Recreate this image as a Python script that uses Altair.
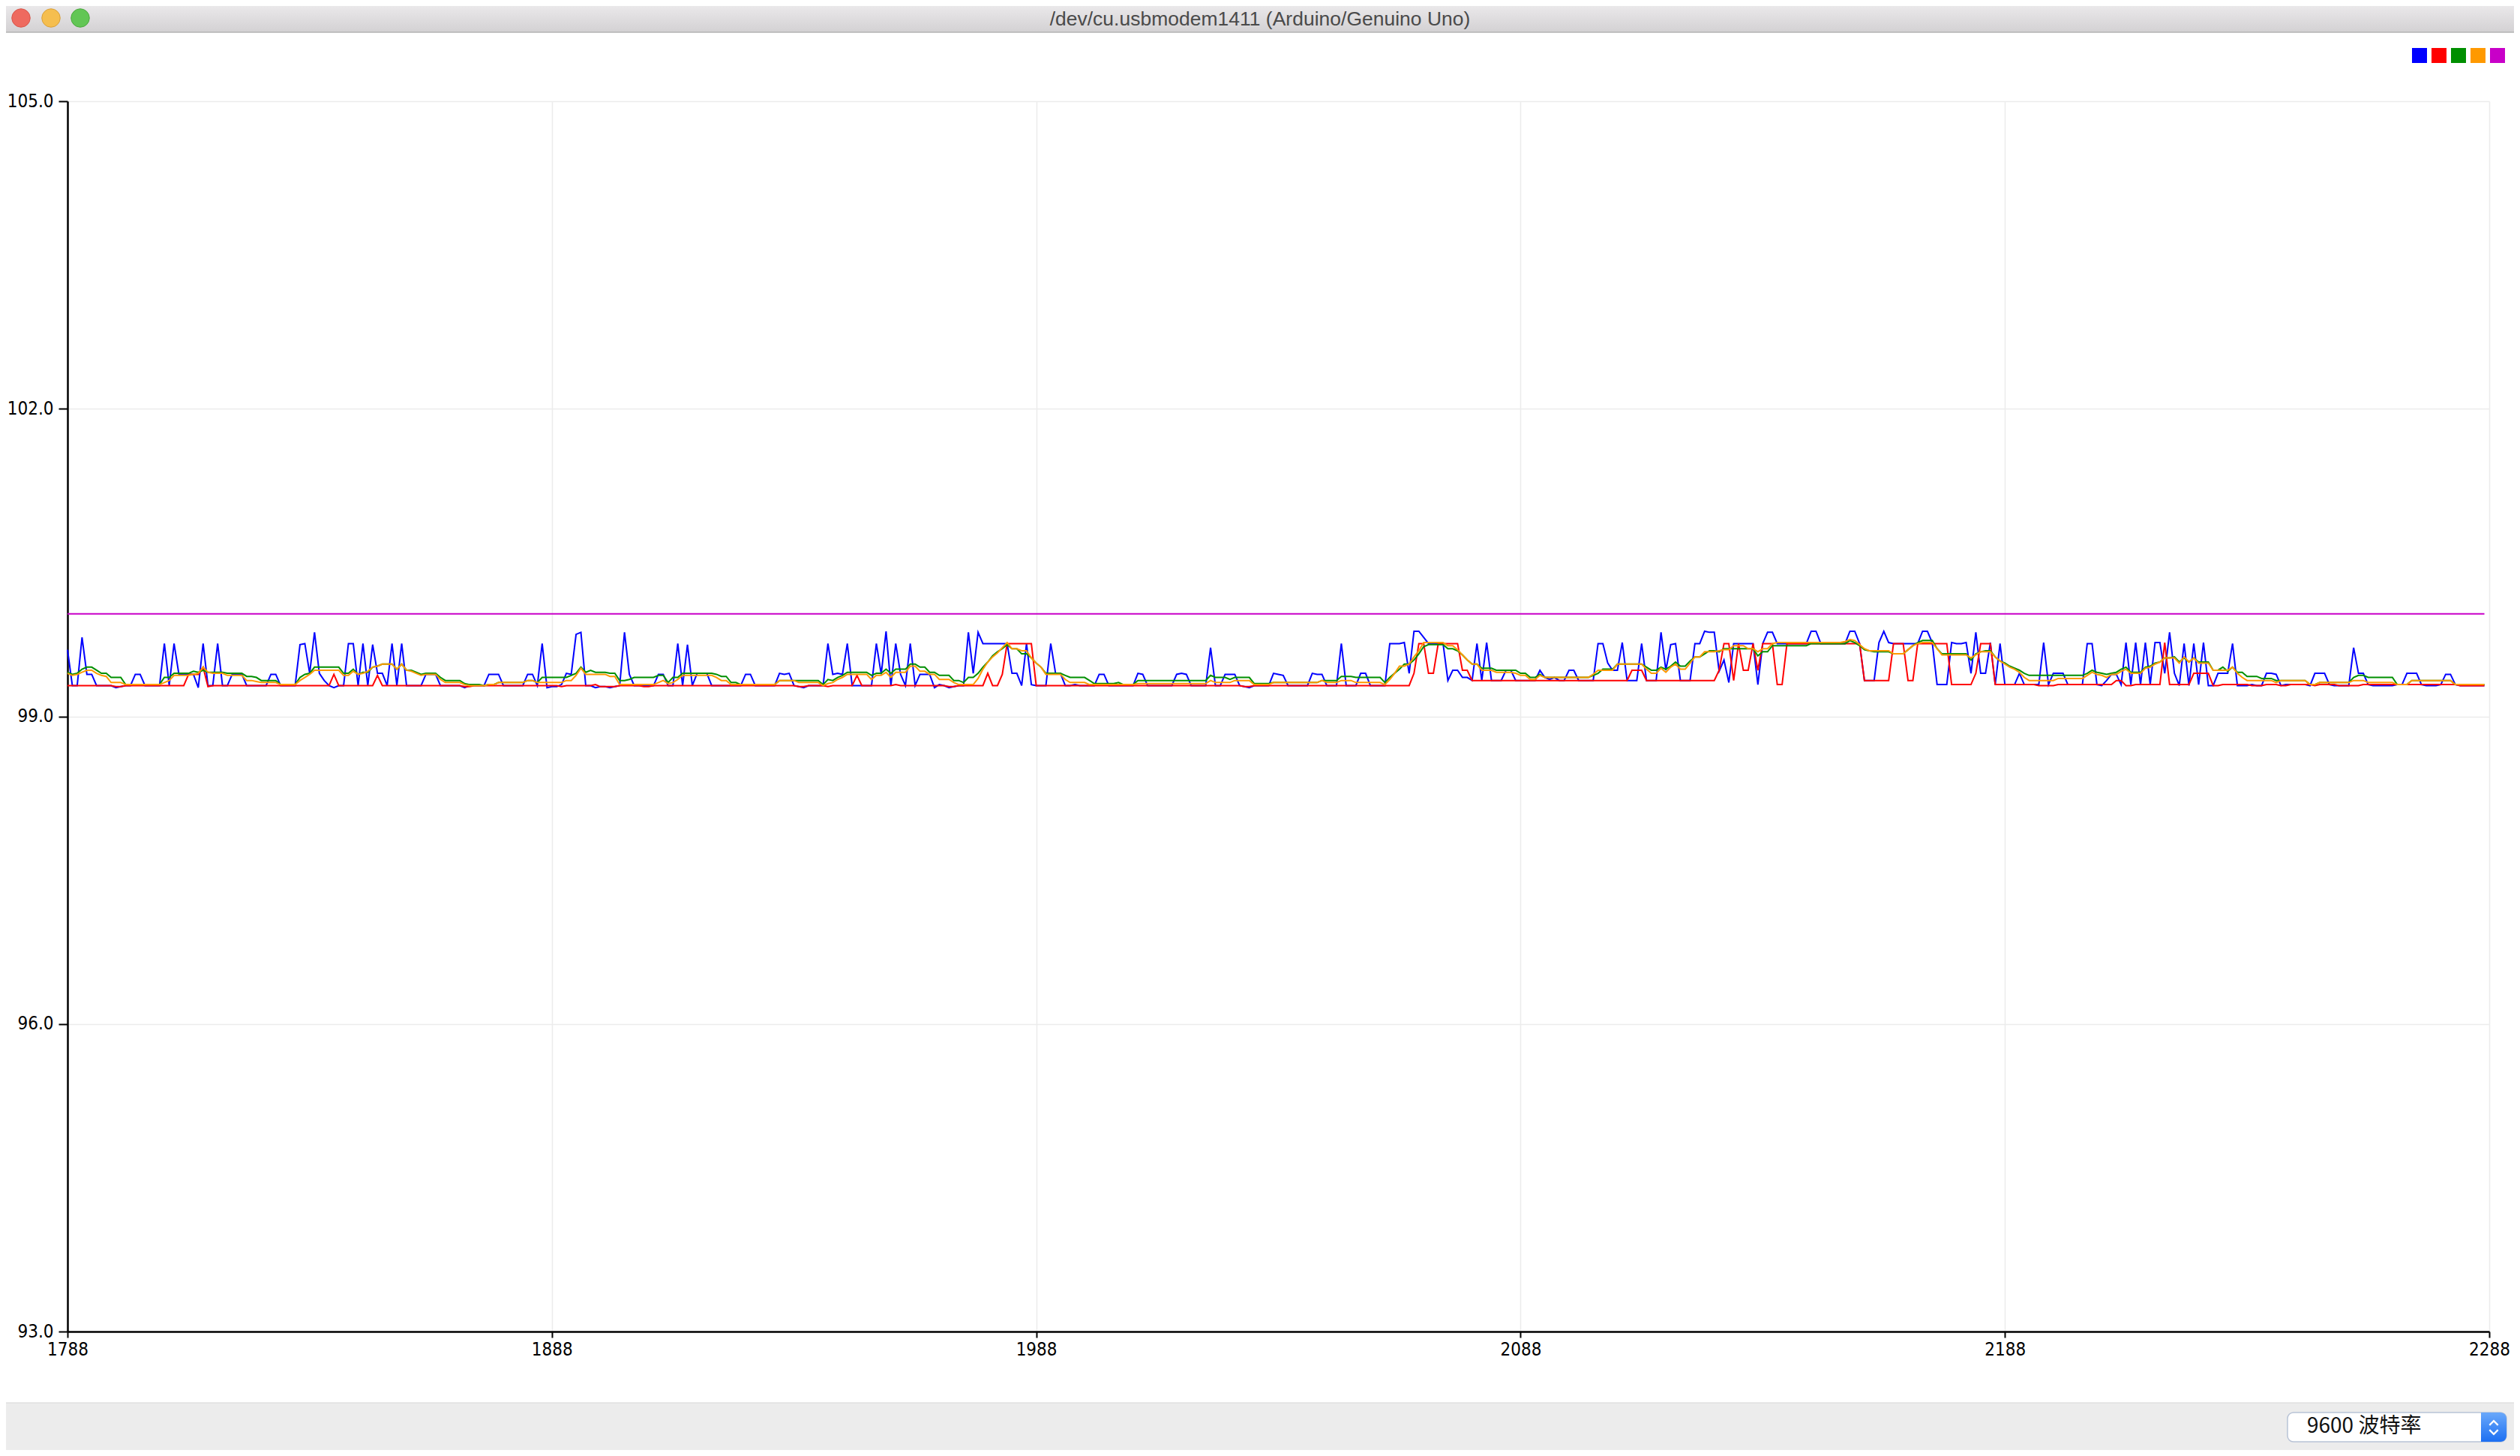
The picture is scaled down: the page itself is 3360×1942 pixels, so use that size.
import altair as alt
import pandas as pd

WINDOW_TITLE = "/dev/cu.usbmodem1411 (Arduino/Genuino Uno)"
BAUD_LABEL = "9600 波特率"
SERIES = ["1", "2", "3", "4", "5"]
SERIES_COLORS = ["#0000ff", "#ff0000", "#008f00", "#ff9900", "#c800c8"]
X_FIRST = 1788
X_TICKS = [1788, 1888, 1988, 2088, 2188, 2288]
Y_TICKS = [93.0, 96.0, 99.0, 102.0, 105.0]

# series 1 (blue), one value per sample
BLUE = [
    99.65, 99.30, 99.30, 99.77, 99.41, 99.41, 99.30, 99.30, 99.30, 99.30,
    99.28, 99.29, 99.30, 99.30, 99.41, 99.41, 99.30, 99.30, 99.30, 99.30,
    99.71, 99.30, 99.71, 99.41, 99.41, 99.41, 99.41, 99.28, 99.71, 99.30,
    99.30, 99.71, 99.30, 99.30, 99.41, 99.41, 99.41, 99.30, 99.30, 99.30,
    99.30, 99.30, 99.41, 99.41, 99.30, 99.30, 99.30, 99.30, 99.70, 99.71,
    99.42, 99.82, 99.42, 99.35, 99.30, 99.28, 99.30, 99.30, 99.71, 99.71,
    99.30, 99.71, 99.30, 99.70, 99.42, 99.42, 99.30, 99.71, 99.30, 99.71,
    99.30, 99.30, 99.30, 99.30, 99.41, 99.41, 99.41, 99.30, 99.30, 99.30,
    99.30, 99.30, 99.28, 99.30, 99.30, 99.30,
    99.30, 99.41, 99.41, 99.41, 99.30, 99.30, 99.30, 99.30, 99.30, 99.41,
    99.41, 99.30, 99.71, 99.28, 99.29, 99.29, 99.31, 99.42, 99.41, 99.80,
    99.82, 99.30, 99.30, 99.28, 99.29, 99.29, 99.28, 99.29, 99.30, 99.82,
    99.41, 99.30, 99.30, 99.30, 99.30, 99.30, 99.41, 99.41, 99.30, 99.30,
    99.71, 99.30, 99.70, 99.30, 99.42, 99.42, 99.42, 99.30, 99.30, 99.30,
    99.30, 99.30, 99.30, 99.30, 99.41, 99.41, 99.30, 99.30, 99.30, 99.30,
    99.30, 99.42, 99.41, 99.42, 99.30, 99.29, 99.28, 99.30, 99.30, 99.30,
    99.30, 99.71, 99.41, 99.42, 99.41, 99.71, 99.30, 99.30, 99.30, 99.30,
    99.30, 99.71, 99.41, 99.83, 99.30, 99.71,
    99.41, 99.30, 99.71, 99.30, 99.41, 99.41, 99.41, 99.28, 99.31, 99.30,
    99.28, 99.29, 99.30, 99.30, 99.82, 99.42, 99.82, 99.71, 99.71, 99.71,
    99.71, 99.71, 99.71, 99.42, 99.42, 99.30, 99.71, 99.31, 99.30, 99.30,
    99.30, 99.71, 99.42, 99.42, 99.30, 99.30, 99.31, 99.30, 99.30, 99.30,
    99.30, 99.41, 99.41, 99.30, 99.30, 99.30, 99.30, 99.30, 99.30, 99.42,
    99.41, 99.30, 99.30, 99.30, 99.30, 99.30, 99.30, 99.41, 99.42, 99.41,
    99.30, 99.30, 99.30, 99.30, 99.67, 99.30, 99.30, 99.41, 99.41, 99.41,
    99.30, 99.29, 99.28, 99.30, 99.30, 99.30, 99.30, 99.42, 99.41, 99.40,
    99.30, 99.30, 99.30, 99.30, 99.30, 99.42, 99.41,
    99.41, 99.30, 99.30, 99.30, 99.71, 99.30, 99.30, 99.30, 99.42, 99.42,
    99.30, 99.30, 99.30, 99.30, 99.71, 99.71, 99.71, 99.72, 99.42, 99.83,
    99.83, 99.77, 99.71, 99.71, 99.71, 99.71, 99.35, 99.45, 99.45, 99.38,
    99.38, 99.35, 99.71, 99.35, 99.72, 99.35, 99.35, 99.35, 99.45, 99.45,
    99.35, 99.35, 99.35, 99.35, 99.35, 99.45, 99.38, 99.36, 99.38, 99.35,
    99.35, 99.45, 99.45, 99.35, 99.35, 99.35, 99.35, 99.71, 99.71, 99.52,
    99.45, 99.45, 99.72, 99.35, 99.35, 99.35, 99.71, 99.35, 99.35, 99.35,
    99.82, 99.45, 99.70, 99.71, 99.35, 99.35, 99.35, 99.71, 99.71, 99.83,
    99.82, 99.82, 99.44, 99.55, 99.33, 99.71, 99.71,
    99.71, 99.71, 99.71, 99.31, 99.71, 99.82, 99.82, 99.71, 99.71, 99.71,
    99.71, 99.71, 99.71, 99.71, 99.83, 99.83, 99.71, 99.71, 99.71, 99.71,
    99.71, 99.71, 99.83, 99.83, 99.71, 99.35, 99.35, 99.35, 99.72, 99.83,
    99.72, 99.71, 99.71, 99.71, 99.71, 99.71, 99.71, 99.83, 99.83, 99.72,
    99.31, 99.31, 99.31, 99.72, 99.71, 99.71, 99.72, 99.42, 99.82, 99.42,
    99.42, 99.72, 99.31, 99.71, 99.31, 99.31, 99.31, 99.42, 99.31, 99.31,
    99.31, 99.31, 99.72, 99.31, 99.42, 99.42, 99.42, 99.31, 99.31, 99.31,
    99.31, 99.71, 99.71, 99.31, 99.30, 99.35, 99.41, 99.41, 99.31, 99.72,
    99.31, 99.72, 99.31, 99.72, 99.31, 99.72, 99.72,
    99.42, 99.82, 99.42, 99.30, 99.71, 99.30, 99.71, 99.31, 99.72, 99.30,
    99.30, 99.42, 99.42, 99.42, 99.71, 99.30, 99.30, 99.30, 99.31, 99.30,
    99.30, 99.42, 99.42, 99.41, 99.30, 99.31, 99.31, 99.31, 99.31, 99.31,
    99.30, 99.42, 99.42, 99.42, 99.31, 99.30, 99.30, 99.30, 99.30, 99.67,
    99.42, 99.42, 99.31, 99.30, 99.30, 99.30, 99.30, 99.30, 99.31, 99.31,
    99.42, 99.42, 99.42, 99.31, 99.30, 99.30, 99.30, 99.31, 99.41, 99.41,
    99.31, 99.30, 99.30, 99.30, 99.30, 99.30, 99.30,
]

# series 2 (red), runs of (value, number of samples)
RED_RUNS = [
    (99.30, 10), (99.29, 2), (99.30, 13), (99.41, 3), (99.48, 1), (99.29, 1),
    (99.30, 25), (99.41, 1), (99.30, 8), (99.40, 1), (99.30, 17), (99.29, 2), (99.30, 2),
    (99.30, 16), (99.29, 1), (99.30, 6), (99.31, 1), (99.29, 4), (99.30, 5), (99.29, 2),
    (99.30, 30), (99.29, 2), (99.30, 4), (99.29, 1), (99.30, 5), (99.40, 1), (99.30, 7), (99.31, 1),
    (99.30, 10), (99.29, 2), (99.30, 6), (99.42, 1), (99.30, 2), (99.41, 1), (99.71, 6),
    (99.30, 43), (99.29, 2), (99.30, 14),
    (99.30, 19), (99.42, 1), (99.71, 2), (99.42, 2), (99.71, 5), (99.45, 2), (99.35, 33),
    (99.45, 3), (99.35, 15), (99.45, 1), (99.71, 2), (99.35, 1), (99.71, 1),
    (99.45, 2), (99.71, 1), (99.45, 1), (99.71, 3), (99.31, 2), (99.71, 16), (99.35, 6),
    (99.71, 3), (99.35, 2), (99.71, 7), (99.31, 5), (99.42, 1), (99.71, 3), (99.31, 9),
    (99.30, 4), (99.31, 12), (99.35, 2), (99.30, 2), (99.31, 6),
    (99.72, 1), (99.31, 5), (99.42, 4), (99.30, 2), (99.31, 6), (99.30, 3), (99.31, 3),
    (99.30, 2), (99.31, 5), (99.30, 1), (99.31, 4), (99.30, 5), (99.31, 20), (99.30, 6),
]

# series 3 (green)
GREEN_RUNS = [
    (99.43, 1), (99.41, 1), (99.42, 1), (99.46, 1), (99.48, 2), (99.45, 1), (99.42, 2),
    (99.38, 3), (99.31, 8), (99.38, 2), (99.42, 4), (99.44, 1), (99.43, 1), (99.45, 1),
    (99.43, 4), (99.42, 4), (99.39, 2), (99.38, 1), (99.35, 4), (99.31, 4), (99.38, 1),
    (99.41, 1), (99.42, 1), (99.48, 6), (99.42, 2), (99.46, 1), (99.41, 1), (99.43, 2),
    (99.48, 1), (99.49, 1), (99.51, 3), (99.46, 1), (99.51, 1), (99.45, 2), (99.43, 1),
    (99.41, 1), (99.42, 3), (99.38, 1), (99.35, 4), (99.32, 1), (99.31, 3),
    (99.30, 1), (99.31, 2), (99.33, 6), (99.35, 2), (99.33, 1), (99.38, 6), (99.40, 1),
    (99.42, 1), (99.48, 1), (99.43, 1), (99.45, 1), (99.43, 3), (99.42, 2), (99.35, 2),
    (99.36, 1), (99.38, 5), (99.40, 2), (99.33, 1), (99.38, 2), (99.42, 7), (99.41, 1),
    (99.39, 2), (99.33, 2), (99.31, 8), (99.35, 9), (99.31, 1), (99.36, 1), (99.35, 1),
    (99.38, 1), (99.40, 1), (99.43, 5), (99.40, 1), (99.42, 2), (99.46, 1), (99.42, 1), (99.46, 1),
    (99.46, 2), (99.51, 2), (99.48, 2), (99.43, 2), (99.40, 3), (99.35, 2), (99.33, 1),
    (99.38, 2), (99.42, 1), (99.48, 1), (99.53, 1), (99.59, 1), (99.63, 1), (99.66, 1),
    (99.70, 1), (99.66, 2), (99.61, 2), (99.57, 1), (99.52, 1), (99.48, 1), (99.42, 4),
    (99.40, 1), (99.38, 4), (99.35, 1), (99.32, 5), (99.33, 1), (99.31, 3), (99.35, 15),
    (99.40, 1), (99.38, 3), (99.36, 1), (99.38, 4), (99.32, 4), (99.33, 10),
    (99.35, 4), (99.39, 3), (99.38, 6), (99.33, 1), (99.38, 1), (99.42, 1), (99.46, 1),
    (99.51, 2), (99.55, 1), (99.61, 1), (99.68, 1), (99.70, 4), (99.66, 2), (99.64, 1),
    (99.60, 1), (99.55, 1), (99.51, 2), (99.47, 3), (99.45, 5), (99.42, 2), (99.38, 2),
    (99.41, 1), (99.38, 10), (99.40, 1), (99.42, 1), (99.46, 3), (99.51, 6), (99.48, 1),
    (99.45, 2), (99.48, 1), (99.46, 1), (99.49, 1), (99.53, 1), (99.49, 2), (99.54, 1),
    (99.58, 2), (99.61, 1), (99.64, 2), (99.63, 1), (99.66, 4),
    (99.66, 3), (99.59, 1), (99.63, 2), (99.69, 8), (99.71, 8), (99.74, 1), (99.72, 1),
    (99.69, 1), (99.65, 1), (99.64, 1), (99.63, 4), (99.61, 3), (99.65, 1), (99.69, 1),
    (99.72, 1), (99.74, 3), (99.66, 1), (99.61, 6), (99.55, 1), (99.61, 1), (99.63, 1),
    (99.64, 2), (99.58, 1), (99.54, 1), (99.52, 1), (99.49, 1), (99.47, 1), (99.45, 1),
    (99.42, 1), (99.40, 12), (99.42, 1), (99.45, 1), (99.43, 1), (99.42, 1), (99.41, 1),
    (99.42, 1), (99.43, 1), (99.46, 1), (99.48, 1), (99.43, 3), (99.48, 1), (99.49, 1),
    (99.52, 1), (99.53, 1),
    (99.57, 2), (99.58, 1), (99.53, 1), (99.57, 1), (99.53, 1), (99.57, 1), (99.53, 3),
    (99.45, 2), (99.48, 1), (99.44, 1), (99.48, 1), (99.43, 2), (99.39, 3), (99.37, 3),
    (99.35, 7), (99.31, 2), (99.33, 7), (99.38, 1), (99.40, 2), (99.38, 6), (99.31, 3),
    (99.35, 9), (99.31, 7),
]

# series 4 (orange)
ORANGE_RUNS = [
    (99.42, 1), (99.40, 1), (99.41, 1), (99.43, 1), (99.45, 2), (99.42, 1), (99.40, 1),
    (99.39, 1), (99.33, 3), (99.31, 8), (99.33, 1), (99.35, 1), (99.40, 4), (99.41, 1),
    (99.42, 1), (99.48, 1), (99.43, 1), (99.42, 3), (99.40, 4), (99.35, 2), (99.34, 1),
    (99.33, 4), (99.31, 4), (99.35, 1), (99.38, 1), (99.41, 1), (99.45, 6), (99.40, 2),
    (99.44, 1), (99.41, 1), (99.42, 1), (99.44, 1), (99.48, 1), (99.49, 1), (99.51, 3),
    (99.46, 1), (99.51, 1), (99.45, 1), (99.44, 1), (99.42, 1), (99.40, 1), (99.41, 3),
    (99.36, 1), (99.33, 4), (99.31, 1), (99.30, 3),
    (99.30, 1), (99.31, 2), (99.33, 6), (99.35, 2), (99.33, 6), (99.35, 2), (99.40, 1),
    (99.47, 1), (99.41, 5), (99.39, 2), (99.31, 8), (99.33, 1), (99.35, 1), (99.32, 1),
    (99.33, 1), (99.36, 1), (99.40, 7), (99.38, 1), (99.35, 2), (99.31, 10), (99.35, 4),
    (99.33, 5), (99.30, 1), (99.32, 1), (99.33, 1), (99.36, 1), (99.38, 1), (99.41, 5),
    (99.36, 1), (99.40, 2), (99.43, 1), (99.38, 1), (99.43, 1),
    (99.43, 2), (99.49, 2), (99.44, 2), (99.41, 2), (99.36, 3), (99.33, 1), (99.31, 4),
    (99.37, 1), (99.46, 1), (99.53, 1), (99.58, 1), (99.62, 1), (99.67, 1), (99.72, 1),
    (99.66, 2), (99.64, 2), (99.57, 1), (99.52, 1), (99.48, 1), (99.41, 4), (99.36, 1),
    (99.33, 4), (99.31, 10), (99.32, 15), (99.35, 1), (99.33, 4), (99.35, 4), (99.31, 4),
    (99.33, 10),
    (99.35, 1), (99.33, 3), (99.35, 3), (99.33, 6), (99.31, 1), (99.36, 1), (99.42, 1),
    (99.49, 2), (99.51, 1), (99.58, 1), (99.64, 1), (99.72, 5), (99.69, 2), (99.65, 1),
    (99.60, 1), (99.55, 1), (99.51, 2), (99.45, 3), (99.43, 4), (99.42, 1), (99.40, 2),
    (99.36, 2), (99.40, 1), (99.38, 10), (99.41, 1), (99.45, 4), (99.51, 6), (99.46, 1),
    (99.42, 2), (99.47, 1), (99.43, 1), (99.48, 1), (99.51, 1), (99.46, 2), (99.52, 1),
    (99.58, 2), (99.63, 3), (99.64, 1), (99.65, 2), (99.69, 2),
    (99.69, 1), (99.66, 2), (99.63, 1), (99.66, 2), (99.71, 1), (99.72, 14), (99.73, 1),
    (99.75, 1), (99.74, 1), (99.70, 1), (99.66, 1), (99.64, 5), (99.61, 3), (99.65, 1),
    (99.69, 1), (99.71, 1), (99.72, 3), (99.66, 1), (99.60, 6), (99.57, 1), (99.60, 1),
    (99.63, 3), (99.58, 1), (99.54, 1), (99.51, 1), (99.48, 1), (99.46, 1), (99.43, 1),
    (99.38, 1), (99.35, 6), (99.37, 6), (99.40, 1), (99.43, 1), (99.41, 1), (99.40, 1),
    (99.38, 1), (99.41, 2), (99.44, 1), (99.46, 1), (99.42, 3), (99.47, 1), (99.48, 1),
    (99.51, 1), (99.53, 1),
    (99.57, 3), (99.52, 1), (99.58, 1), (99.53, 1), (99.57, 1), (99.52, 3), (99.45, 4),
    (99.48, 1), (99.42, 1), (99.38, 1), (99.35, 6), (99.33, 1), (99.35, 6), (99.31, 2),
    (99.33, 7), (99.35, 3), (99.33, 6), (99.31, 3), (99.35, 9), (99.31, 7),
]

# series 5 (magenta) is a flat reference level
MAGENTA_LEVEL = 100.0


def expand(runs):
    out = []
    for value, count in runs:
        out.extend([value] * count)
    return out


series_values = [
    BLUE,
    expand(RED_RUNS),
    expand(GREEN_RUNS),
    expand(ORANGE_RUNS),
    [MAGENTA_LEVEL] * len(BLUE),
]

rows = []
for name, values in zip(SERIES, series_values):
    for i, v in enumerate(values):
        rows.append({"series": name, "x": X_FIRST + i, "y": v})
df = pd.DataFrame(rows)

# ---------------- layout (pixels, relative to the plot origin) ----------------
PLOT_W, PLOT_H = 3229, 1641
PAD = {"left": 82, "top": 127, "right": 33, "bottom": 158}
LEFT, RIGHT = -PAD["left"], PLOT_W + PAD["right"]
TOP, BOTTOM = -PAD["top"], PLOT_H + PAD["bottom"]

one = pd.DataFrame({"k": [0]})
color_scale = alt.Scale(domain=SERIES, range=SERIES_COLORS)
MONO = "'DejaVu Sans Condensed', 'DejaVu Sans Mono'"

x_enc = alt.X(
    "x:Q",
    scale=alt.Scale(domain=[X_TICKS[0], X_TICKS[-1]], nice=False, zero=False),
    axis=alt.Axis(
        values=X_TICKS, format="d", title=None, labelFont=MONO, labelFontSize=24,
        labelColor="black", labelFlush=False, labelOverlap=False,
        tickColor="black", tickSize=8, tickWidth=2, labelPadding=4,
        domainColor="black", domainWidth=2.5,
        grid=True, gridColor="#ececec", gridWidth=1.5,
    ),
)
y_enc = alt.Y(
    "y:Q",
    scale=alt.Scale(domain=[Y_TICKS[0], Y_TICKS[-1]], nice=False, zero=False),
    axis=alt.Axis(
        values=Y_TICKS, format=".1f", title=None, labelFont=MONO, labelFontSize=24,
        labelColor="black", labelOverlap=False,
        tickColor="black", tickSize=12, tickWidth=2, labelPadding=7,
        domainColor="black", domainWidth=2.5,
        grid=True, gridColor="#ececec", gridWidth=1.5,
    ),
)

layers = []

# window title bar
title_grad = alt.LinearGradient(
    gradient="linear",
    stops=[alt.GradientStop(color="#eae8ea", offset=0), alt.GradientStop(color="#d3d1d3", offset=1)],
    x1=0, x2=0, y1=0, y2=1,
)
layers.append(alt.Chart(one).mark_rect(color=title_grad).encode(
    x=alt.value(LEFT), x2=alt.value(RIGHT), y=alt.value(TOP), y2=alt.value(-92)))
layers.append(alt.Chart(one).mark_rule(color="#b3b3b3", strokeWidth=1.5).encode(
    x=alt.value(LEFT), x2=alt.value(RIGHT), y=alt.value(-92)))
for cx, fill, stroke in [(-62, "#ee6a5f", "#d8564b"), (-22, "#f5be4f", "#d9a03a"), (17, "#62c655", "#4ca83f")]:
    layers.append(alt.Chart(one).mark_circle(size=600, color=fill, opacity=1, stroke=stroke, strokeWidth=1).encode(
        x=alt.value(cx), y=alt.value(-111)))
layers.append(alt.Chart(one).mark_text(
    text=WINDOW_TITLE, font="Liberation Sans", fontSize=26.5, color="#4a4a4a",
    align="center", baseline="middle").encode(x=alt.value(1590), y=alt.value(-109)))

# bottom bar with baud-rate selector
layers.append(alt.Chart(one).mark_rect(color="#ececec").encode(
    x=alt.value(LEFT), x2=alt.value(RIGHT), y=alt.value(1736), y2=alt.value(BOTTOM)))
layers.append(alt.Chart(one).mark_rule(color="#d6d6d6", strokeWidth=1).encode(
    x=alt.value(LEFT), x2=alt.value(RIGHT), y=alt.value(1736)))
layers.append(alt.Chart(one).mark_rect(fill="white", stroke="#b8c3d6", strokeWidth=1.5, cornerRadius=8).encode(
    x=alt.value(2960), x2=alt.value(3252), y=alt.value(1749), y2=alt.value(1788)))
step_grad = alt.LinearGradient(
    gradient="linear",
    stops=[alt.GradientStop(color="#6aa8fa", offset=0), alt.GradientStop(color="#1c6ff2", offset=1)],
    x1=0, x2=0, y1=0, y2=1,
)
layers.append(alt.Chart(one).mark_rect(color=step_grad, cornerRadiusTopRight=8, cornerRadiusBottomRight=8).encode(
    x=alt.value(3218), x2=alt.value(3252), y=alt.value(1749), y2=alt.value(1788)))
for cy, path in [(1763, "M-1,0.5L0,-0.5L1,0.5"), (1775, "M-1,-0.5L0,0.5L1,-0.5")]:
    layers.append(alt.Chart(one).mark_point(shape=path, filled=False, stroke="white", strokeWidth=2.2,
                                            size=130, opacity=1).encode(x=alt.value(3235), y=alt.value(cy)))
layers.append(alt.Chart(one).mark_text(
    text=BAUD_LABEL, font="Noto Sans CJK SC", fontSize=28, color="#111111",
    align="left", baseline="middle").encode(x=alt.value(2986), y=alt.value(1768)))

# colour key (squares only, no labels) in the top right corner; placed before the
# lines so that its legend settings win when the shared colour legend is merged
legend_df = pd.DataFrame({"series": SERIES})
layers.append(alt.Chart(legend_df).mark_square(filled=True, opacity=0, size=1).encode(
    x=alt.value(0), y=alt.value(0),
    color=alt.Color("series:N", scale=color_scale, legend=alt.Legend(
        title=None, orient="none", legendX=3126, legendY=-71, direction="horizontal",
        symbolType="square", symbolSize=400, symbolOpacity=1, symbolStrokeWidth=0,
        labelExpr="''", labelOffset=0, columnPadding=6, padding=0, rowPadding=0,
    )),
))

# data lines, drawn in series order
for name in SERIES:
    layers.append(alt.Chart(df).transform_filter(alt.datum.series == name).mark_line(
        strokeWidth=2, interpolate="linear").encode(
        x=x_enc, y=y_enc,
        color=alt.Color("series:N", scale=color_scale),
        order="x:Q",
    ))

chart = alt.layer(*layers).properties(
    width=PLOT_W, height=PLOT_H, padding=PAD,
    autosize=alt.AutoSizeParams(type="none"), background="white",
).configure_view(stroke=None)

chart.save("out.html", embed_options={"renderer": "svg", "actions": False})
